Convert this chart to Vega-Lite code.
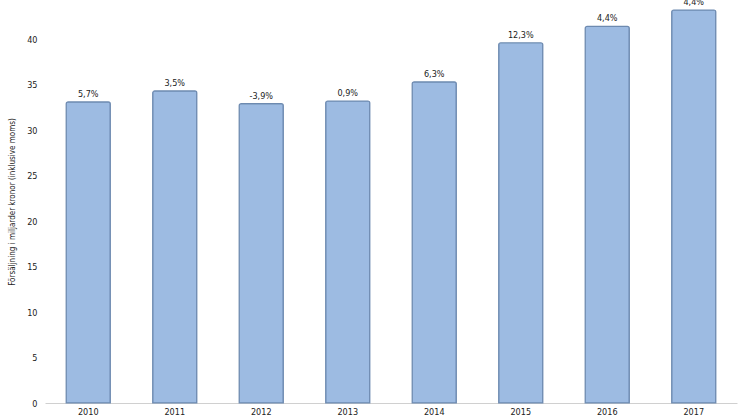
{
  "$schema": "https://vega.github.io/schema/vega-lite/v6.json",
  "width": 692,
  "height": 403,
  "autosize": {"type": "none"},
  "padding": {"left": 45, "top": 0, "right": 9, "bottom": 16},
  "config": {"view": {"stroke": null}, "font": "DejaVu Sans Condensed, Liberation Sans, sans-serif"},
  "data": {"values": [
    {"year": "2010", "value": 33.1, "growth": "5,7%"},
    {"year": "2011", "value": 34.3, "growth": "3,5%"},
    {"year": "2012", "value": 32.9, "growth": "-3,9%"},
    {"year": "2013", "value": 33.2, "growth": "0,9%"},
    {"year": "2014", "value": 35.3, "growth": "6,3%"},
    {"year": "2015", "value": 39.6, "growth": "12,3%"},
    {"year": "2016", "value": 41.4, "growth": "4,4%"},
    {"year": "2017", "value": 43.2, "growth": "4,4%"}
  ]},
  "encoding": {
    "x": {"field": "year", "type": "nominal", "sort": null,
      "scale": {"paddingInner": 0.49, "paddingOuter": 0.245},
      "axis": {"title": null, "labelAngle": 0, "ticks": false, "domainColor": "#d0d0d0", "labelFontSize": 9, "labelColor": "#222", "labelPadding": 4}},
    "y": {"field": "value", "type": "quantitative",
      "scale": {"domain": [0, 44.3], "nice": false},
      "axis": {"title": "Försäljning i miljarder kronor (inklusive moms)", "values": [0,5,10,15,20,25,30,35,40], "grid": false, "domain": false, "ticks": false, "labelFontSize": 9, "labelColor": "#222", "labelPadding": 8, "titleFontSize": 8, "titleFontWeight": "normal", "titleColor": "#222", "titlePadding": 10}}
  },
  "layer": [
    {"mark": {"type": "bar", "color": "#9dbbe2", "stroke": "#6d8ab0", "strokeWidth": 1.2, "cornerRadiusTopLeft": 2, "cornerRadiusTopRight": 2}},
    {"mark": {"type": "text", "dy": -8, "fontSize": 9, "color": "#222"}, "encoding": {"text": {"field": "growth"}}}
  ]
}
